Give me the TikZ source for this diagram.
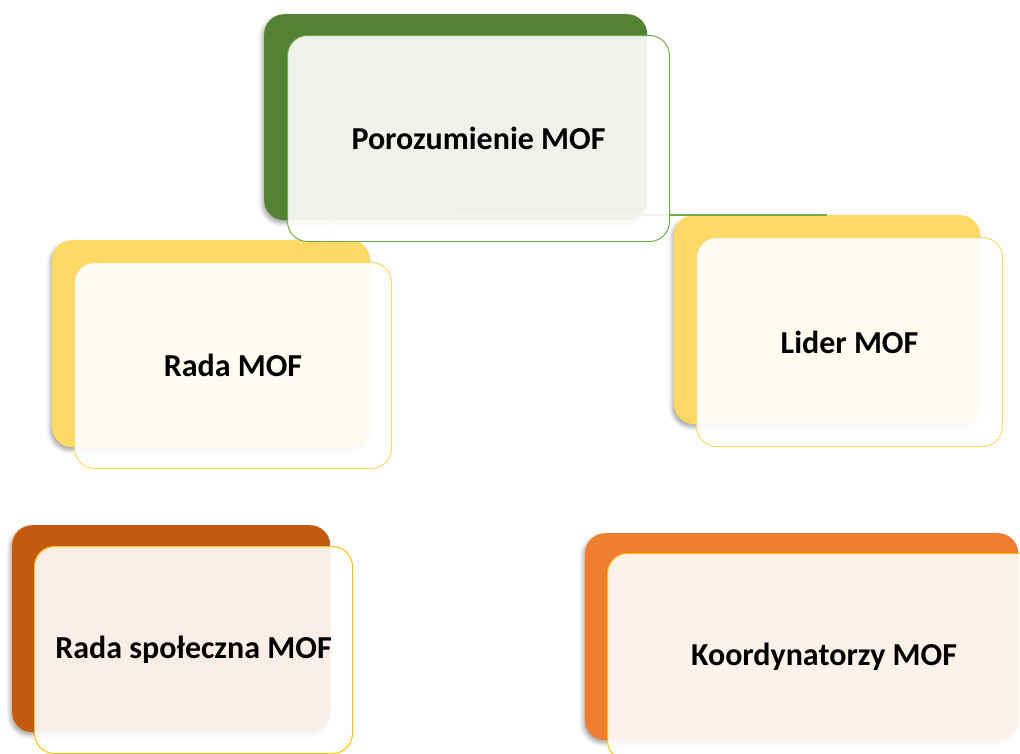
\documentclass[tikz,border=0pt]{standalone}
\usepackage{fontspec}
\setmainfont{Carlito}
\usetikzlibrary{calc,shadows.blur}
\definecolor{mofgreen}{HTML}{548235}
\definecolor{mofgreenline}{HTML}{70AD47}
\definecolor{mofpale}{HTML}{E2EFD9}
\definecolor{mofyellow}{HTML}{FFD966}
\definecolor{mofrust}{HTML}{C55A11}
\definecolor{moforange}{HTML}{ED7D31}
\definecolor{mofgold}{HTML}{FFC000}
\begin{document}
\begin{tikzpicture}[x=1pt, y=-1pt]
	\tikzstyle{backbox}  = [rectangle, rounded corners=20pt, inner sep=0pt, anchor=north west, draw=none,
		blur shadow={shadow xshift=-2pt, shadow yshift=-3pt, shadow blur radius=4pt, shadow opacity=35}]
	\tikzstyle{frontbox} = [rectangle, rounded corners=20pt, inner sep=0pt, anchor=north west, line width=1pt,
		fill=white, fill opacity=0.9, text opacity=1, font=\bfseries\fontsize{32}{37}\selectfont]
	\tikzstyle{link}     = [line width=1.3pt]

	\clip (0,0) rectangle (1020,753);

	\foreach \name/\x/\y/\w/\h/\col in {poro/264/14/383/206/mofgreen, rada/52/240/318/207/mofyellow,
		lider/674/215/306/209/mofyellow, spol/12/525/318/207/mofrust, koord/585/533/433/207/moforange}
		\node[backbox, fill=\col, minimum width=\w pt, minimum height=\h pt] (\name b) at (\x, \y) {};

	\draw[link, mofgreenline] (porob.center |- liderb.north) -- (liderb.north);
	\draw[link, mofpale] ($(porob.south west)!0.185!(porob.south east)$) -- ($(radab.north west)!0.86!(radab.north east)$);

	\foreach \name/\x/\y/\w/\h/\col/\txt in {poro/287/35/382/206/mofgreenline/Porozumienie MOF,
		rada/74/262/317/206/mofyellow/Rada MOF, lider/696/237/306/209/mofyellow/Lider MOF,
		spol/34/546/318/207/mofgold/Rada społeczna MOF, koord/607/553/433/207/mofgold/Koordynatorzy MOF}
		\node[frontbox, draw=\col, minimum width=\w pt, minimum height=\h pt] (\name) at (\x, \y) {\txt};
\end{tikzpicture}
\end{document}
